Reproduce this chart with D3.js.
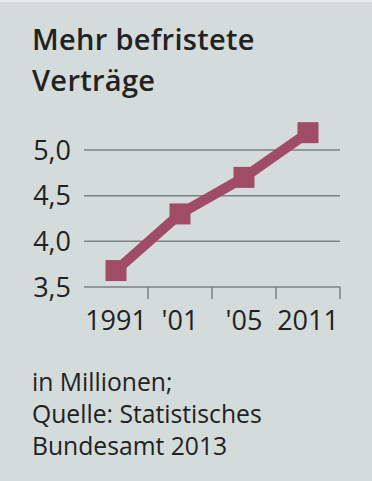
<!DOCTYPE html>
<html><head><meta charset="utf-8">
<script src="https://cdn.jsdelivr.net/npm/d3@7"></script>
<style>html,body{margin:0;padding:0;background:#d3dbdb;}svg{display:block;}</style>
</head><body>
<svg id="c" width="372" height="481"></svg>
<script>
const categories = ["1991", "'01", "'05", "2011"];
const values = [3.68, 4.30, 4.70, 5.19];
const yTicks = [3.5, 4.0, 4.5, 5.0];
const titleLines = ["Mehr befristete", "Verträge"];
const noteLines = ["in Millionen;", "Quelle: Statistisches", "Bundesamt 2013"];

const svg = d3.select("#c");
const font = "'Open Sans', sans-serif";
svg.append("rect").attr("width",372).attr("height",481).attr("fill","#d3dbdb");
svg.append("rect").attr("width",372).attr("height",2).attr("fill","#e6eaea");

const x = d3.scaleBand().domain(categories).range([84,340]).padding(0);
const y = d3.scaleLinear().domain([3.5,5.0]).range([287,150]);

svg.selectAll("text.title").data(titleLines).enter().append("text")
  .attr("x",32).attr("y",(d,i)=>50+i*41)
  .attr("font-family",font).attr("font-weight",600).attr("font-size",29)
  .attr("letter-spacing",0.3)
  .attr("fill","#222").text(d=>d);

// gridlines
svg.append("g").selectAll("line").data(yTicks.slice(1)).enter().append("line")
  .attr("x1",84).attr("x2",340).attr("y1",d=>y(d)).attr("y2",d=>y(d))
  .attr("stroke","#7a8282").attr("stroke-width",1.5);

// y labels
svg.append("g").selectAll("text").data(yTicks).enter().append("text")
  .attr("x",71).attr("y",d=>y(d)).attr("dy","0.36em").attr("text-anchor","end")
  .attr("font-family",font).attr("font-size",27).attr("fill","#222")
  .text(d=>d.toFixed(1).replace(".",","));

// x axis
const xAxis = d3.axisBottom(x).tickSize(0).tickFormat(d=>d);
const ga = svg.append("g").attr("transform",`translate(0,${y(3.5)})`).call(xAxis);
ga.select(".domain").attr("stroke","#7a8282").attr("stroke-width",1.5).attr("d","M84,0H340");
ga.selectAll("text").attr("font-family",font).attr("font-size",27).attr("fill","#222")
  .attr("y",0).attr("dy","1.58em");
// tick marks at band boundaries
const bounds = categories.map(c=>x(c)+x.bandwidth());
svg.append("g").selectAll("line").data(bounds).enter().append("line")
  .attr("x1",d=>d).attr("x2",d=>d).attr("y1",y(3.5)).attr("y2",y(3.5)+12)
  .attr("stroke","#7a8282").attr("stroke-width",1.5);

// line
const data = categories.map((c,i)=>({c, v: values[i]}));
const line = d3.line().x(d=>x(d.c)+x.bandwidth()/2).y(d=>y(d.v));
const col = "#a14c67";
svg.append("path").datum(data).attr("d",line).attr("fill","none")
  .attr("stroke",col).attr("stroke-width",10);
const ms = 21;
svg.append("g").selectAll("rect").data(data).enter().append("rect")
  .attr("x",d=>x(d.c)+x.bandwidth()/2-ms/2).attr("y",d=>y(d.v)-ms/2)
  .attr("width",ms).attr("height",ms).attr("fill",col);

svg.selectAll("text.note").data(noteLines).enter().append("text")
  .attr("x",32).attr("y",(d,i)=>391+i*32)
  .attr("font-family",font).attr("font-size",24.7).attr("fill","#222").text(d=>d);
</script>
</body></html>
